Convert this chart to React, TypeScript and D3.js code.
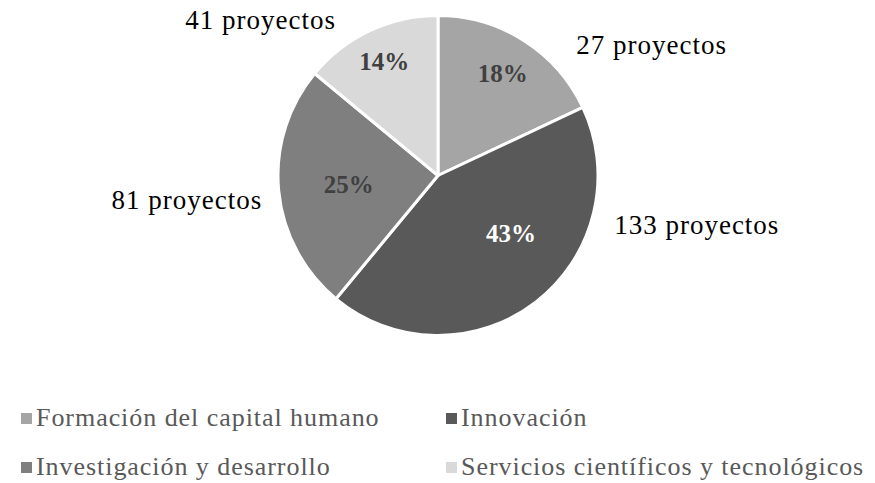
import React from 'react';
import * as d3 from 'd3';

// slice shares (percent) as shown inside the pie, clockwise from 12 o'clock
const categories = [
  'Formación del capital humano',
  'Innovación',
  'Investigación y desarrollo',
  'Servicios científicos y tecnológicos',
];
const shares = [18, 43, 25, 14];
const projects = [27, 133, 81, 41];
const colors = ['#a5a5a5', '#595959', '#7f7f7f', '#d9d9d9'];
const pctColors = ['#404040', '#ffffff', '#404040', '#404040'];

// layout tweaks (Excel moved these labels by hand)
const pctRadius = [0.755, 0.58, 0.56, 0.79];
const pctNudge = [[0, 0], [16, -16], [0, 0], [0, 0]];
const outNudge = [[115, 24], [146, -96], [-68, 7], [-99, 11]];

const W = 875, H = 483;
const cx = 438, cy = 175.5, r = 160;
const font = '"Liberation Serif", serif';

export default function App() {
  const pie = d3.pie<number>().sort(null).value(d => d);
  const arcs = pie(shares);
  const arc = d3.arc<d3.PieArcDatum<number>>().innerRadius(0).outerRadius(r);
  const outerArc = d3.arc<d3.PieArcDatum<number>>().innerRadius(r * 1.15).outerRadius(r * 1.15);

  const legendX = [21, 446];
  const legendY = [426, 475];

  return (
    <svg width={W} height={H} style={{ position: 'absolute', left: 0, top: 0, background: '#fff' }}>
      <g transform={`translate(${cx},${cy})`}>
        {arcs.map((a, i) => (
          <path key={i} d={arc(a) || ''} fill={colors[i]} stroke="#fff" strokeWidth={3} strokeLinejoin="round" />
        ))}
        {arcs.map((a, i) => {
          const lr = r * pctRadius[i];
          const c = d3.arc<d3.PieArcDatum<number>>().innerRadius(lr).outerRadius(lr).centroid(a);
          return (
            <text key={'p' + i} x={c[0] + pctNudge[i][0]} y={c[1] + pctNudge[i][1]} dy="0.35em"
              textAnchor="middle" fontFamily={font} fontWeight="bold" fontSize={25} fill={pctColors[i]}>
              {shares[i]}%
            </text>
          );
        })}
        {arcs.map((a, i) => {
          const c = outerArc.centroid(a);
          return (
            <text key={'o' + i} x={c[0] + outNudge[i][0]} y={c[1] + outNudge[i][1]} dy="0.35em"
              textAnchor="middle" fontFamily={font} fontSize={27} letterSpacing={1} fill="#000">
              {projects[i]} proyectos
            </text>
          );
        })}
      </g>
      {categories.map((name, i) => {
        const x = legendX[i % 2];
        const y = legendY[Math.floor(i / 2)];
        return (
          <g key={'l' + i} transform={`translate(${x},${y})`}>
            <rect x={0} y={-13} width={11} height={11} fill={colors[i]} />
            <text x={15} y={0} fontFamily={font} fontSize={26} letterSpacing={0.95} fill="#595959">{name}</text>
          </g>
        );
      })}
    </svg>
  );
}
